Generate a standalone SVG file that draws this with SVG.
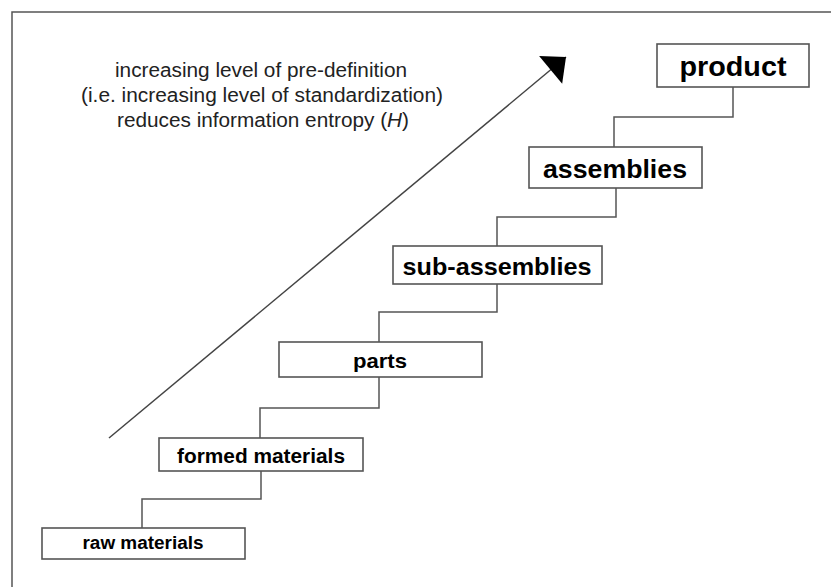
<svg xmlns="http://www.w3.org/2000/svg" width="831" height="587" viewBox="0 0 831 587">
  <defs>
    <marker id="head" markerUnits="userSpaceOnUse" markerWidth="40" markerHeight="40" viewBox="-22 -20 24 40" refX="0" refY="0" orient="auto">
      <path d="M0,0 L-20,-18 L-20,18 Z" fill="#000"/>
    </marker>
    <style>
      .frame { fill: none; stroke: #555; stroke-width: 1.5; }
      .box { fill: #fff; stroke: #555; stroke-width: 1.6; }
      .link { fill: none; stroke: #555; stroke-width: 1.5; }
      .label { font-family: "Liberation Sans", Arial, sans-serif; font-weight: bold; fill: #000; text-anchor: middle; }
      .note { font-family: "Liberation Sans", Arial, sans-serif; font-size: 20px; fill: #222; text-anchor: middle; }
    </style>
  </defs>
  <rect width="831" height="587" fill="#fff"/>
  <!-- outer frame: only the top and left edges fall inside the canvas -->
  <path class="frame" d="M12,587 V12 H831"/>

  <!-- caption -->
  <g id="caption">
    <text class="note" x="261" y="77" textLength="292" lengthAdjust="spacingAndGlyphs">increasing level of pre-definition</text>
    <text class="note" x="262" y="102" textLength="362" lengthAdjust="spacingAndGlyphs">(i.e. increasing level of standardization)</text>
    <text class="note" x="263" y="127" textLength="292" lengthAdjust="spacingAndGlyphs">reduces information entropy (<tspan font-style="italic">H</tspan>)</text>
  </g>

  <!-- connectors: stair steps and the rising arrow -->
  <g id="connectors">
    <path class="link" d="M733,87 V117 H614 V147"/>
    <path class="link" d="M616,188 V217 H497 V246"/>
    <path class="link" d="M497,284 V312 H379 V342"/>
    <path class="link" d="M379,377 V408 H260 V438"/>
    <path class="link" d="M261,471 V499 H142 V528"/>
    <line x1="109" y1="438" x2="566" y2="57" stroke="#444" stroke-width="1.5" marker-end="url(#head)"/>
  </g>

  <g id="product">
    <rect class="box" x="657" y="44" width="152" height="43"/>
    <text class="label" x="733" y="76" font-size="27" textLength="107" lengthAdjust="spacingAndGlyphs">product</text>
  </g>
  <g id="assemblies">
    <rect class="box" x="529" y="147" width="173" height="41"/>
    <text class="label" x="615" y="178" font-size="25" textLength="144" lengthAdjust="spacingAndGlyphs">assemblies</text>
  </g>
  <g id="sub-assemblies">
    <rect class="box" x="393" y="246" width="209" height="38"/>
    <text class="label" x="497" y="275" font-size="24" textLength="189" lengthAdjust="spacingAndGlyphs">sub-assemblies</text>
  </g>
  <g id="parts">
    <rect class="box" x="279" y="342" width="203" height="35"/>
    <text class="label" x="380" y="368" font-size="21" textLength="54" lengthAdjust="spacingAndGlyphs">parts</text>
  </g>
  <g id="formed-materials">
    <rect class="box" x="159" y="438" width="204" height="33"/>
    <text class="label" x="261" y="463" font-size="20" textLength="168" lengthAdjust="spacingAndGlyphs">formed materials</text>
  </g>
  <g id="raw-materials">
    <rect class="box" x="42" y="528" width="203" height="31"/>
    <text class="label" x="143" y="549" font-size="18" textLength="121" lengthAdjust="spacingAndGlyphs">raw materials</text>
  </g>
</svg>
